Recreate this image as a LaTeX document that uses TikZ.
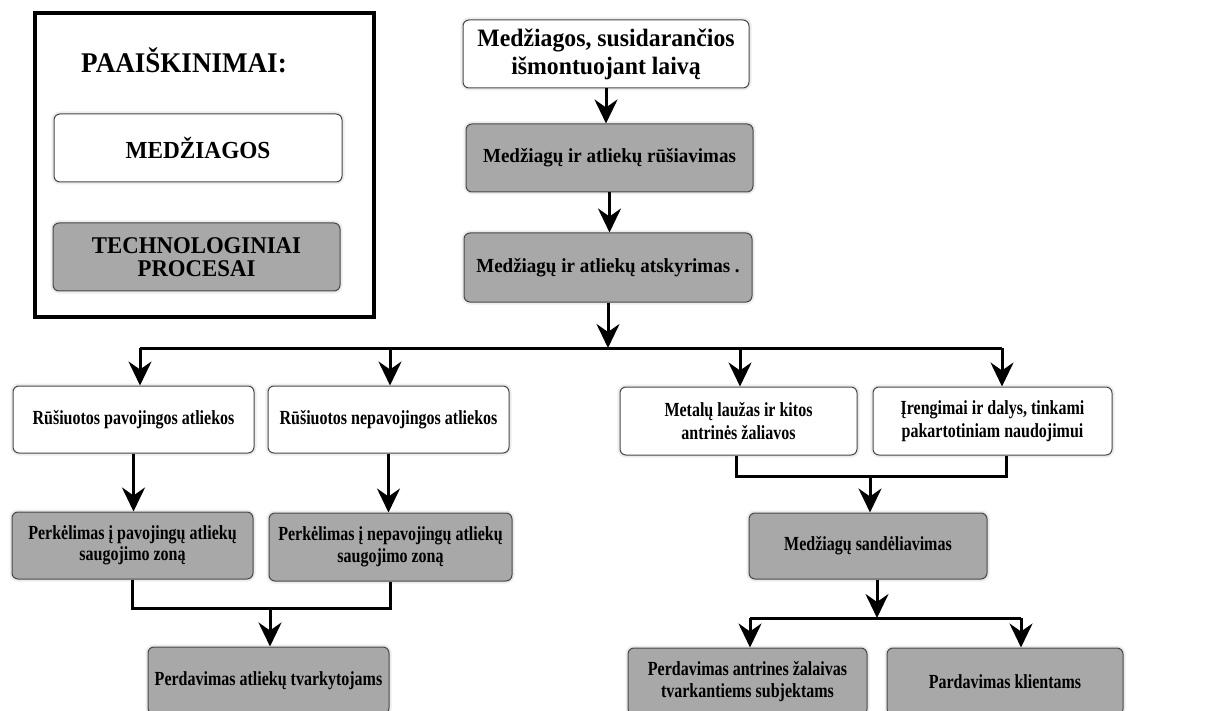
\documentclass[tikz,border=0pt]{standalone}
\usepackage{fontspec}
\setmainfont{Liberation Serif}[FakeStretch=0.8]
\newfontfamily\wideserif{Liberation Serif}[FakeStretch=0.95]
\usetikzlibrary{arrows.meta}
\definecolor{procgray}{RGB}{168,168,168}
\definecolor{edgegray}{RGB}{70,70,70}
\begin{document}
\begin{tikzpicture}[x=1pt,y=-1pt,
  box/.style={draw=edgegray, line width=1pt, rounded corners=6pt, align=center,
    inner sep=2pt, font=\bfseries\fontsize{20}{23}\selectfont,
    preaction={draw=black!7, line width=5pt}},
  mat/.style={box, fill=white},
  proc/.style={box, fill=procgray},
  conn/.style={line width=3pt},
  arr/.style={conn, -{Stealth[length=24pt,width=23pt,inset=8pt]}},
]
\useasboundingbox (0,0) rectangle (1231,711);
\fill[white] (0,0) rectangle (1231,711);

% legend
\node[draw=black, line width=4pt, minimum width=339pt, minimum height=304pt, inner sep=0pt] (legend) at (204.5,165) {};
\node[font=\wideserif\bfseries\fontsize{28.5}{32}\selectfont] (legtitle) at (184,60) {PAAIŠKINIMAI:};
\node[mat, minimum width=288pt, minimum height=68pt, font=\wideserif\bfseries\fontsize{24.5}{28}\selectfont] (legM) at (198,148) {MEDŽIAGOS};
\node[proc, minimum width=287pt, minimum height=68pt, font=\wideserif\bfseries\fontsize{24}{23}\selectfont] (legT) at (196.5,257) {TECHNOLOGINIAI\\PROCESAI};

% main column
\node[mat, minimum width=286pt, minimum height=68pt, font=\wideserif\bfseries\fontsize{25}{28}\selectfont] (top) at (606,54) {Medžiagos, susidarančios\\išmontuojant laivą};
\node[proc, minimum width=287pt, minimum height=68pt, font=\wideserif\bfseries\fontsize{20}{24}\selectfont] (sort) at (609.5,158) {Medžiagų ir atliekų rūšiavimas};
\node[proc, minimum width=288pt, minimum height=69pt, font=\wideserif\bfseries\fontsize{20}{24}\selectfont] (sep) at (608,267.5) {Medžiagų ir atliekų atskyrimas .};

% row of materials
\node[mat, minimum width=241pt, minimum height=67pt] (A) at (133.5,419.5) {Rūšiuotos pavojingos atliekos};
\node[mat, minimum width=241pt, minimum height=67pt] (B) at (388.5,419.5) {Rūšiuotos nepavojingos atliekos};
\node[mat, minimum width=237pt, minimum height=68pt] (C) at (738.5,421) {Metalų laužas ir kitos\\antrinės žaliavos};
\node[mat, minimum width=239pt, minimum height=68pt] (D) at (992.5,421) {Įrengimai ir dalys, tinkami\\pakartotiniam naudojimui};

% processes
\node[proc, minimum width=241pt, minimum height=67pt, font=\bfseries\fontsize{20}{21.5}\selectfont] (E) at (132.5,545.5) {Perkėlimas į pavojingų atliekų\\saugojimo zoną};
\node[proc, minimum width=243pt, minimum height=68pt, font=\bfseries\fontsize{20}{21.5}\selectfont] (F) at (390.5,547) {Perkėlimas į nepavojingų atliekų\\saugojimo zoną};
\node[proc, minimum width=241pt, minimum height=67pt] (G) at (268.5,680.5) {Perdavimas atliekų tvarkytojams};
\node[proc, minimum width=238pt, minimum height=66pt] (H) at (868,546) {Medžiagų sandėliavimas};
\node[proc, minimum width=239pt, minimum height=67pt, font=\bfseries\fontsize{20}{22}\selectfont] (I) at (747.5,681.5) {Perdavimas antrines žalaivas\\tvarkantiems subjektams};
\node[proc, minimum width=236pt, minimum height=67pt] (J) at (1005,681.5) {Pardavimas klientams};

% connectors
\draw[arr] (top.south) -- (top.south |- sort.north);
\draw[arr] (sort.south) -- (sort.south |- sep.north);

\coordinate (bus) at (608,348);
\coordinate (bA) at (140,348);
\coordinate (bB) at (390,348);
\coordinate (bC) at (740,348);
\coordinate (bD) at (1002,348);
\draw[conn] (bA) -- (bD);
\draw[arr] (sep.south) -- (bus);
\draw[arr] (bA) -- (bA |- A.north);
\draw[arr] (bB) -- (bB |- B.north);
\draw[arr] (bC) -- (bC |- C.north);
\draw[arr] (bD) -- (bD |- D.north);

\draw[arr] (A.south) -- (A.south |- E.north);
\draw[arr] (B.south) -- (B.south |- F.north);

\coordinate (mEF) at (270,608);
\draw[conn] (E.south) |- (mEF) -| (F.south);
\draw[arr] (mEF) -- (mEF |- G.north);

\coordinate (mCD) at (870,476);
\draw[conn] ([xshift=-2.5pt]C.south) |- (mCD) -| ([xshift=13.5pt]D.south);
\draw[arr] (mCD) -- (mCD |- H.north);

\coordinate (b2) at (877,618);
\coordinate (bI) at (750,618);
\coordinate (bJ) at (1021,618);
\draw[conn] (bI) -- (bJ);
\draw[arr] (H.south -| b2) -- (b2);
\draw[arr] (bI) -- (bI |- I.north);
\draw[arr] (bJ) -- (bJ |- J.north);
\end{tikzpicture}
\end{document}
